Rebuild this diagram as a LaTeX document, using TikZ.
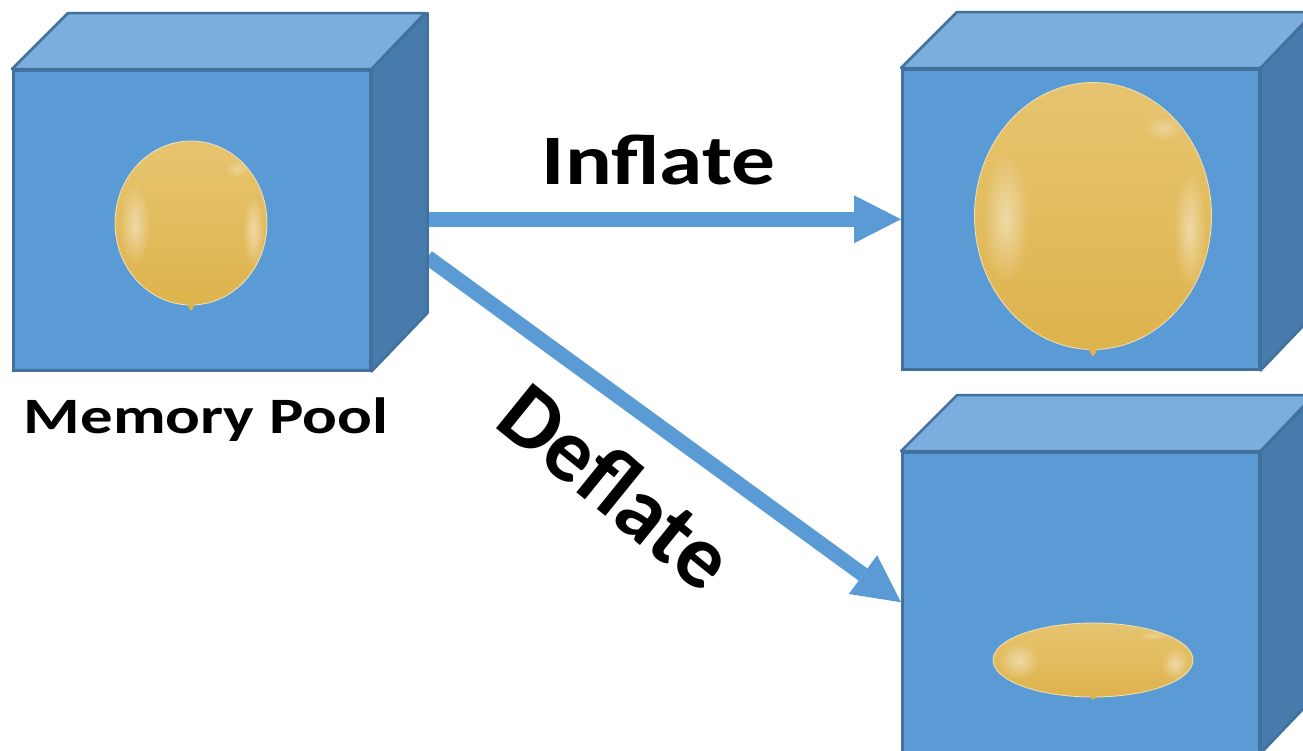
\documentclass[tikz,border=0pt]{standalone}
\usepackage{fontspec}
\setmainfont{Carlito}
\usetikzlibrary{arrows.meta,shapes.geometric,calc,fadings}

\definecolor{facefront}{HTML}{5B9BD5}
\definecolor{facetop}{HTML}{7CAEDD}
\definecolor{faceside}{HTML}{477BAB}
\definecolor{faceedge}{HTML}{41719C}
\definecolor{balloontop}{HTML}{E6C46F}
\definecolor{balloonbottom}{HTML}{DEB34D}
\definecolor{balloonrim}{HTML}{F2E2B8}
\definecolor{flowblue}{HTML}{5B9BD5}

\tikzfading[name=softspot, inner color=transparent!0, outer color=transparent!100]

\tikzset{
  front/.style={rectangle, inner sep=0pt, fill=facefront, draw=faceedge,
    line width=2.5pt, minimum width=357pt, minimum height=300pt, anchor=north west},
  topface/.style={fill=facetop, draw=faceedge, line width=2.5pt, line join=round},
  sideface/.style={fill=faceside, draw=faceedge, line width=2.5pt, line join=round},
  balloon/.style={ellipse, inner sep=0pt, draw=balloonrim, line width=0.8pt,
    top color=balloontop, bottom color=balloonbottom},
  knot/.style={fill=balloonbottom},
  shine/.style={fill=white, opacity=0.45, path fading=softspot},
  flow/.style={draw=flowblue, line width=15pt,
    -{Triangle[length=47pt, width=48pt, line width=0pt]}},
  label/.style={font=\bfseries\fontsize{71}{71}\selectfont, inner sep=0pt},
}

% top and side faces of a box whose front face is node #1
\newcommand\boxfaces[1]{%
  \path[sideface] (#1.north east) -- ++(56,-56) -- ++(0,300) -- (#1.south east) -- cycle;
  \path[topface] (#1.north west) -- ++(56,-56) -- ++(357,0) -- (#1.north east) -- cycle;
}

% soft highlights on a balloon node #1 with half axes #2, #3
\newcommand\balloonshine[3]{%
  \path[shine] ($(#1.center)+(-0.74*#2,0.02*#3)$) ellipse ({0.2*#2} and {0.5*#3});
  \path[shine] ($(#1.center)+(0.82*#2,0.1*#3)$) ellipse ({0.14*#2} and {0.45*#3});
  \path[shine, opacity=0.3] ($(#1.center)+(0.6*#2,-0.66*#3)$) ellipse ({0.16*#2} and {0.1*#3});
}

\begin{document}
\begin{tikzpicture}[x=1pt, y=-1pt]
\useasboundingbox (0,0) rectangle (1303,750);
\clip (0,0) rectangle (1303,750);

% front faces of the three boxes
\node[front] (pool) at (12,69) {};
\node[front] (big)  at (901,68) {};
\node[front] (flat) at (901,451) {};

% connectors, drawn beneath the boxes
\coordinate (pool-side) at ($(pool.east)+(56,37)$);
\draw[flow] (pool.east |- big.west) -- (big.west);
\draw[flow] (pool-side) -- (flat.west);

% boxes
\foreach \b in {pool,big,flat}{
  \boxfaces{\b}
  \node[front] at (\b.north west) {};
}

% balloons
\node[balloon, minimum width=152pt, minimum height=164pt] (b-small) at (191,223) {};
\path[knot] ($(b-small.south)+(-4,-2)$) -- ++(8,0) -- ++(-3,7) -- ++(-2,0) -- cycle;
\balloonshine{b-small}{76}{82}

\node[balloon, minimum width=237pt, minimum height=267pt] (b-big) at (1093,216) {};
\path[knot] ($(b-big.south)+(-5,-2)$) -- ++(10,0) -- ++(-4,8) -- ++(-2,0) -- cycle;
\balloonshine{b-big}{118}{133}

\node[balloon, minimum width=200pt, minimum height=74pt] (b-flat) at (1093,660) {};
\path[knot] ($(b-flat.south)+(-4,-2)$) -- ++(8,0) -- ++(-3,4) -- ++(-2,0) -- cycle;
\balloonshine{b-flat}{100}{37}

% labels
\node[label, anchor=base, xscale=1.23] (lbl-inflate) at (658.5,184) {Inflate};
\node[label, font=\bfseries\fontsize{90}{90}\selectfont, rotate=-39] (lbl-deflate)
  at (617,486) {Deflate};
\node[label, font=\bfseries\fontsize{51}{51}\selectfont, anchor=base, xscale=1.27]
  (lbl-pool) at (206,433) {Memory Pool};
\end{tikzpicture}
\end{document}
